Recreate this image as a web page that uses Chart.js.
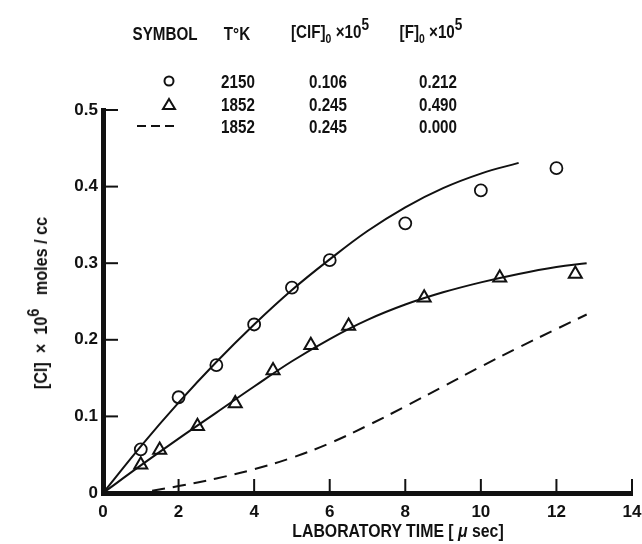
<!DOCTYPE html>
<html>
<head>
<meta charset="utf-8">
<script src="https://cdn.jsdelivr.net/npm/chart.js@4.4.1/dist/chart.umd.min.js"></script>
<style>
  html, body { margin: 0; padding: 0; background: #fff; }
  #wrap { position: relative; width: 642px; height: 544px; overflow: hidden; background: #fff; }
  #c { position: absolute; left: 0; top: 0; }
  .t { position: absolute; font-family: 'Liberation Sans', Arial, sans-serif; font-weight: bold; font-size: 19px; color: #111; white-space: nowrap; transform: translate(-50%, -50%) scaleX(0.8); line-height: 1; }
  .t sub { font-size: 13px; vertical-align: -5px; }
  .t sup { font-size: 17px; vertical-align: 8px; }
  .sym { position: absolute; transform: translate(-50%, -50%); }
  .ytitle { position: absolute; left: 38px; top: 303px; font-family: 'Liberation Sans', Arial, sans-serif; font-weight: bold; font-size: 18px; color: #111; white-space: nowrap; line-height: 1; transform: translate(-50%, -50%) rotate(-90deg) scaleX(0.9); }
  .ytitle sup { font-size: 16px; vertical-align: 8px; }
</style>
</head>
<body>
<div id="wrap">
  <canvas id="c" width="642" height="544"></canvas>
  <div class="t" style="left:165px;top:33px">SYMBOL</div>
  <div class="t" style="left:237px;top:33px">T°K</div>
  <div class="t" style="left:330px;top:30px">[ClF]<sub>0</sub> ×10<sup>5</sup></div>
  <div class="t" style="left:431px;top:30px">[F]<sub>0</sub> ×10<sup>5</sup></div>

  <svg class="sym" style="left:169px;top:81px" width="14" height="14"><circle cx="7" cy="7" r="4.5" fill="none" stroke="#111" stroke-width="2"/></svg>
  <svg class="sym" style="left:169px;top:104px" width="16" height="14"><polygon points="8,2 14,12 2,12" fill="none" stroke="#111" stroke-width="2"/></svg>
  <svg class="sym" style="left:156px;top:126px" width="40" height="6"><line x1="1" y1="3" x2="39" y2="3" stroke="#111" stroke-width="2" stroke-dasharray="9,5"/></svg>

  <div class="t" style="left:238px;top:81px">2150</div>
  <div class="t" style="left:328px;top:81px">0.106</div>
  <div class="t" style="left:438px;top:81px">0.212</div>
  <div class="t" style="left:238px;top:104px">1852</div>
  <div class="t" style="left:328px;top:104px">0.245</div>
  <div class="t" style="left:438px;top:104px">0.490</div>
  <div class="t" style="left:238px;top:126px">1852</div>
  <div class="t" style="left:328px;top:126px">0.245</div>
  <div class="t" style="left:438px;top:126px">0.000</div>

  <div class="ytitle">[Cl] &nbsp;×&nbsp; 10<sup>6</sup> &nbsp;&nbsp;moles / cc</div>
  <div class="t" style="left:398px;top:531px;font-size:18px;transform:translate(-50%,-50%) scaleX(0.88)">LABORATORY TIME [ <i>μ</i> sec]</div>
</div>
<script>
// ---- data ----
const xTicks = [0, 2, 4, 6, 8, 10, 12, 14];
const yTicks = [0, 0.1, 0.2, 0.3, 0.4, 0.5];

// circles: T = 2150 K
const circleT = [1, 2, 3, 4, 5, 6, 8, 10, 12];
const circleY = [0.057, 0.125, 0.167, 0.220, 0.268, 0.304, 0.352, 0.395, 0.424];

// triangles: T = 1852 K
const triT = [1, 1.5, 2.5, 3.5, 4.5, 5.5, 6.5, 8.5, 10.5, 12.5];
const triY = [0.037, 0.056, 0.087, 0.117, 0.160, 0.193, 0.218, 0.255, 0.281, 0.286];

// fitted curve through circles
const fitCircleT = [0, 1, 2, 3, 4, 5, 6, 7, 8, 9, 10, 11];
const fitCircleY = [0, 0.061, 0.118, 0.171, 0.220, 0.265, 0.305, 0.342, 0.373, 0.398, 0.417, 0.431];

// fitted curve through triangles
const fitTriT = [0, 1, 2, 3, 4, 5, 6, 7, 8, 9, 10, 11, 12, 12.8];
const fitTriY = [0, 0.036, 0.071, 0.105, 0.139, 0.172, 0.201, 0.226, 0.246, 0.262, 0.275, 0.286, 0.295, 0.300];

// dashed curve: 1852 K, [F]0 = 0
const dashT = [1.3, 2, 3, 4, 5, 6, 7, 8, 9, 10, 11, 12, 12.8];
const dashY = [0.003, 0.009, 0.019, 0.031, 0.046, 0.065, 0.088, 0.113, 0.139, 0.165, 0.190, 0.214, 0.233];

const pts = (xs, ys) => xs.map((x, i) => ({x, y: ys[i]}));
const FONT = "'Liberation Sans', Arial, sans-serif";

const inwardTicks = {
  id: 'inwardTicks',
  afterDraw(chart) {
    const {ctx, scales: {x, y}} = chart;
    ctx.save();
    ctx.strokeStyle = '#111';
    ctx.lineWidth = 2;
    const x0 = x.getPixelForValue(0);
    const y0 = y.getPixelForValue(0);
    yTicks.forEach(v => {
      if (v === 0) return;
      const py = y.getPixelForValue(v);
      ctx.beginPath(); ctx.moveTo(x0, py); ctx.lineTo(x0 + 15, py); ctx.stroke();
    });
    xTicks.forEach(v => {
      if (v === 0) return;
      const px = x.getPixelForValue(v);
      ctx.beginPath(); ctx.moveTo(px, y0); ctx.lineTo(px, y0 - 14); ctx.stroke();
    });
    ctx.restore();
  }
};

new Chart(document.getElementById('c'), {
  type: 'scatter',
  data: {
    datasets: [
      { type: 'line', data: pts(fitCircleT, fitCircleY), borderColor: '#111', borderWidth: 2, pointRadius: 0, fill: false, tension: 0.4 },
      { type: 'line', data: pts(fitTriT, fitTriY), borderColor: '#111', borderWidth: 2, pointRadius: 0, fill: false, tension: 0.4 },
      { type: 'line', data: pts(dashT, dashY), borderColor: '#111', borderWidth: 2, borderDash: [13, 8], pointRadius: 0, fill: false, tension: 0.4 },
      { data: pts(circleT, circleY), pointStyle: 'circle', pointRadius: 6, borderColor: '#111', borderWidth: 1.8, backgroundColor: '#fff' },
      { data: pts(triT, triY), pointStyle: 'triangle', pointRadius: 7.5, borderColor: '#111', borderWidth: 2, backgroundColor: '#fff' }
    ]
  },
  options: {
    responsive: false,
    animation: false,
    layout: { padding: { left: 0, right: 10, top: 110, bottom: 0 } },
    plugins: { legend: { display: false }, tooltip: { enabled: false } },
    scales: {
      x: {
        type: 'linear', min: 0, max: 14,
        afterFit(s) { s.height = 51; s.paddingLeft = 0; s.paddingRight = 0; },
        afterBuildTicks(s) { s.ticks = xTicks.map(v => ({value: v})); },
        grid: { display: false, drawTicks: false },
        border: { display: true, width: 5, color: '#111' },
        ticks: { padding: 9, color: '#111', font: { family: FONT, size: 17, weight: 'bold' } }
      },
      y: {
        type: 'linear', min: 0, max: 0.5,
        afterFit(s) { s.width = 103; s.paddingTop = 0; s.paddingBottom = 0; },
        afterBuildTicks(s) { s.ticks = yTicks.map(v => ({value: v})); },
        grid: { display: false, drawTicks: false },
        border: { display: true, width: 5, color: '#111' },
        ticks: { padding: 5, color: '#111', font: { family: FONT, size: 17, weight: 'bold' },
                 callback: v => (v === 0 ? '0' : v.toFixed(1)) }
      }
    }
  },
  plugins: [inwardTicks]
});
</script>
</body>
</html>
